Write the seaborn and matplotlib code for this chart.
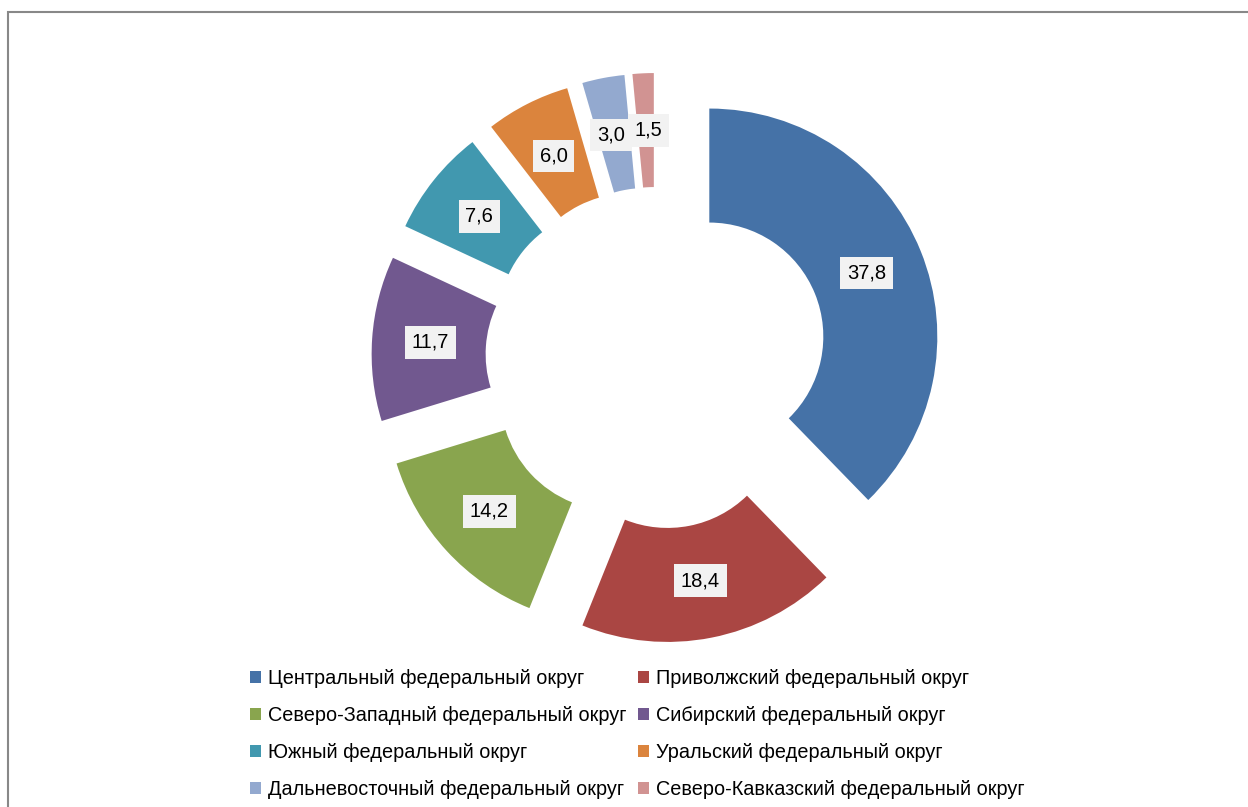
import matplotlib
matplotlib.use("Agg")
import matplotlib.pyplot as plt
import seaborn as sns
from matplotlib.patches import Rectangle

# ---- data ----
districts = [
    "Центральный федеральный округ",
    "Приволжский федеральный округ",
    "Северо-Западный федеральный округ",
    "Сибирский федеральный округ",
    "Южный федеральный округ",
    "Уральский федеральный округ",
    "Дальневосточный федеральный округ",
    "Северо-Кавказский федеральный округ",
]
values = [37.8, 18.4, 14.2, 11.7, 7.6, 6.0, 3.0, 1.5]
colors = ["#4572A7", "#AA4643", "#89A54E", "#71588F",
          "#4198AF", "#DB843D", "#93A9CF", "#D19392"]

sns.set_theme(style="white")
plt.rcParams["font.family"] = ["Liberation Sans", "DejaVu Sans"]
plt.rcParams["text.color"] = "black"

W, H = 1248, 807
fig = plt.figure(figsize=(W / 100, H / 100), dpi=100)
fig.patch.set_facecolor("white")

# outer frame (partially cut off at right and bottom)
fig.add_artist(Rectangle((8 / W, -0.1), 1.2, 1.1 - 12 / H,
                         transform=fig.transFigure, fill=False,
                         edgecolor="#888888", linewidth=1.5, clip_on=False))

# donut axes: centre at (656.5, 358) px from top, radius 228 px
cx, cy, R = 656.5, 358.0, 228.0
lim = 1.4
half = lim * R
ax = fig.add_axes([(cx - half) / W, (H - cy - half) / H, 2 * half / W, 2 * half / H])

vals_iter = iter(values)
wedges, _, autotexts = ax.pie(
    values,
    colors=sns.color_palette(colors),
    startangle=90,
    counterclock=False,
    explode=[0.25] * len(values),
    radius=1.0,
    wedgeprops=dict(width=0.5, edgecolor="none", linewidth=0),
    autopct=lambda p: f"{next(vals_iter):.1f}".replace(".", ","),
    pctdistance=0.745,
    textprops=dict(fontsize=14.5, color="black"),
)
for t in autotexts:
    t.set_bbox(dict(boxstyle="square,pad=0.33", facecolor="#F2F2F2", edgecolor="none"))
    t.set_ha("center")
    t.set_va("center")

# small labels at the top are pushed slightly apart (as the original does)
x6, y6 = autotexts[6].get_position()
autotexts[6].set_position((x6 - 3 / R, y6))
x7, y7 = autotexts[7].get_position()
autotexts[7].set_position((x7 + 3 / R, y7 + 1 / R))

ax.set_xlim(-lim, lim)
ax.set_ylim(-lim, lim)
ax.set_aspect("equal", adjustable="box")
ax.axis("off")

# legend: two separate columns, row-wise order as in the reference
common = dict(loc="upper left", frameon=False, fontsize=14.3, labelcolor="black",
              handlelength=0.55, handleheight=0.55, handletextpad=0.38,
              labelspacing=0.9, borderpad=0, borderaxespad=0)
left_idx = [0, 2, 4, 6]
right_idx = [1, 3, 5, 7]
fig.legend([wedges[i] for i in left_idx], [districts[i] for i in left_idx],
           bbox_to_anchor=(250 / W, 1 - 669 / H), **common)
fig.legend([wedges[i] for i in right_idx], [districts[i] for i in right_idx],
           bbox_to_anchor=(638 / W, 1 - 669 / H), **common)

fig.savefig("out.png", dpi=100, facecolor="white")
